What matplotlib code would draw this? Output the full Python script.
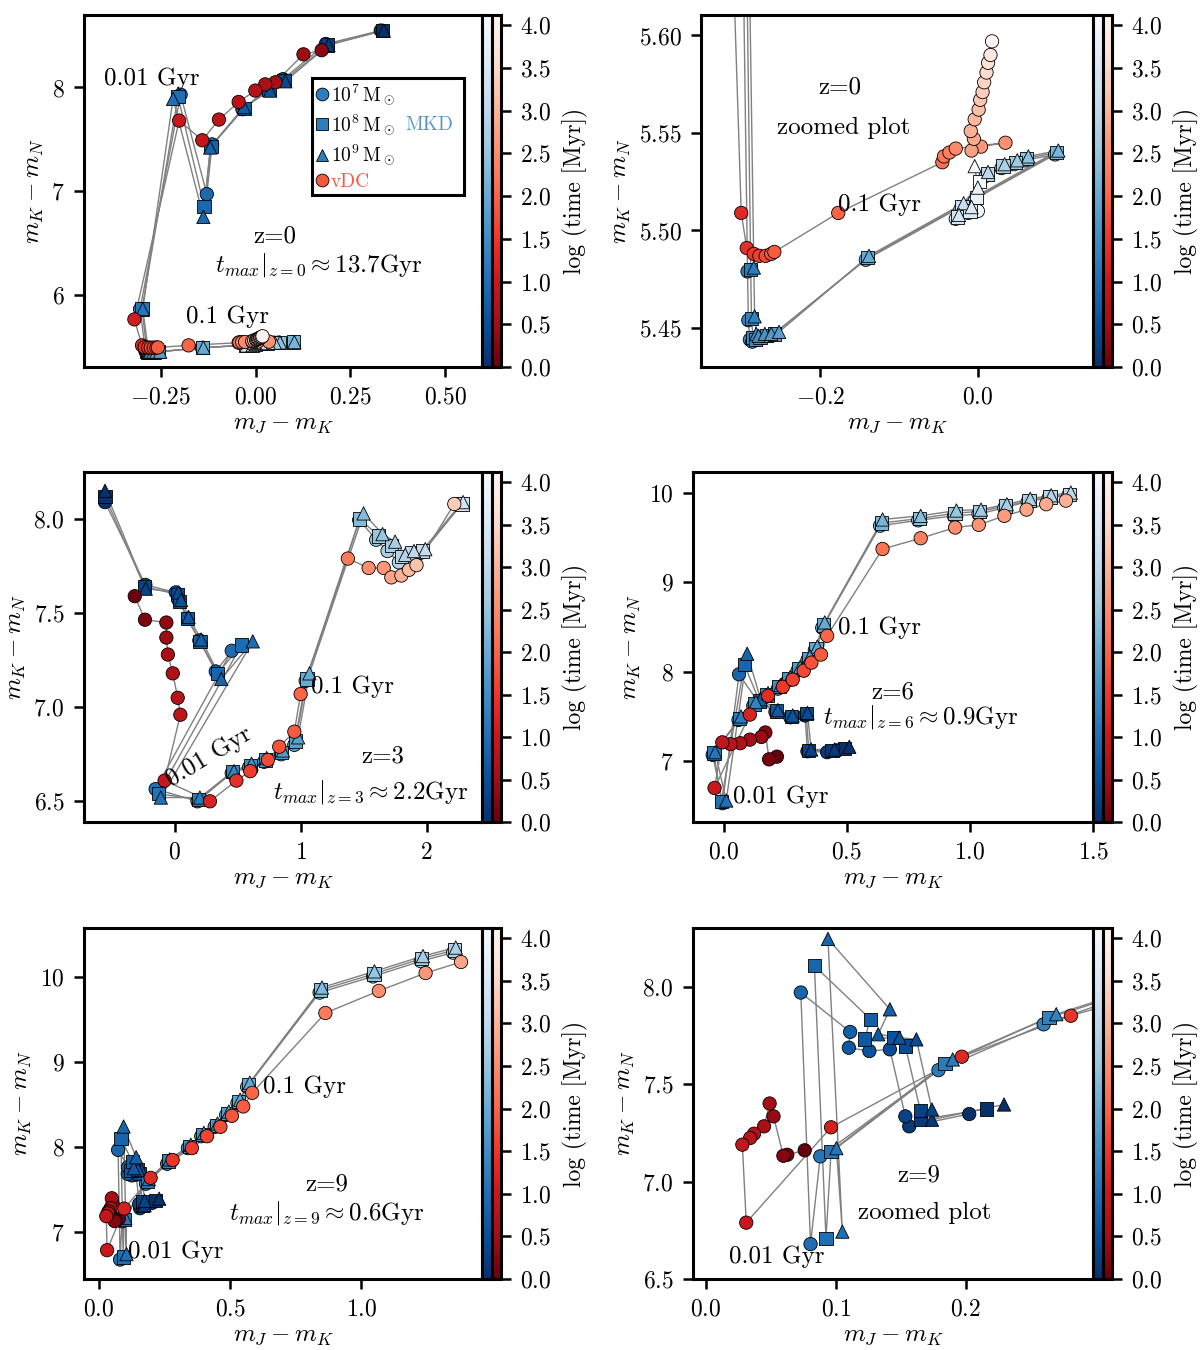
import matplotlib
matplotlib.use('Agg')
import matplotlib.pyplot as plt
import numpy as np
from matplotlib.colors import Normalize
from matplotlib.cm import ScalarMappable
from matplotlib.lines import Line2D
from matplotlib.ticker import MultipleLocator

plt.rcParams['font.family'] = 'serif'
plt.rcParams['font.serif'] = ['cmr10']
plt.rcParams['mathtext.fontset'] = 'cm'
plt.rcParams['axes.formatter.use_mathtext'] = True

# ---------------- z = 0 ----------------
z0_t_mkd = [0.0, 0.2, 0.4, 0.55, 0.7, 0.8, 0.9, 1.0, 1.1, 1.2, 1.3, 1.4, 1.5, 1.6,
            1.7, 1.8, 2.0, 2.2, 2.4, 2.6, 2.8, 3.0, 3.2, 3.4, 3.6, 3.8, 4.1]
z0_x_m7 = [0.330, 0.185, 0.072, 0.030, -0.035, -0.115, -0.129, -0.198, -0.305, -0.292,
           -0.291, -0.289, -0.286, -0.280, -0.272, -0.262, -0.142, 0.098, 0.060, 0.046,
           0.030, 0.010, -0.022, -0.028, -0.012, -0.004, 0.000]
z0_y_m7 = [8.55, 8.42, 8.08, 7.98, 7.79, 7.45, 6.97, 7.93, 5.86, 5.479, 5.454, 5.444,
           5.443, 5.444, 5.445, 5.446, 5.485, 5.539, 5.536, 5.534, 5.532, 5.528, 5.511,
           5.506, 5.509, 5.515, 5.510]
z0_x_m8 = [0.335, 0.190, 0.075, 0.035, -0.030, -0.118, -0.136, -0.205, -0.300, -0.288,
           -0.287, -0.285, -0.282, -0.276, -0.268, -0.258, -0.140, 0.100, 0.062, 0.048,
           0.032, 0.012, -0.020, -0.026, -0.010, -0.002, 0.002]
z0_y_m8 = [8.55, 8.41, 8.07, 7.98, 7.80, 7.43, 6.85, 7.91, 5.86, 5.480, 5.455, 5.445,
           5.444, 5.445, 5.446, 5.447, 5.486, 5.540, 5.537, 5.535, 5.533, 5.529, 5.512,
           5.507, 5.510, 5.517, 5.525]
z0_x_m9 = [0.338, 0.192, 0.078, 0.038, -0.031, -0.120, -0.138, -0.218, -0.298, -0.284,
           -0.283, -0.281, -0.278, -0.270, -0.262, -0.252, -0.138, 0.102, 0.064, 0.050,
           0.034, 0.013, -0.018, -0.024, -0.008, 0.000, -0.004]
z0_y_m9 = [8.55, 8.41, 8.06, 7.97, 7.81, 7.42, 6.75, 7.89, 5.86, 5.481, 5.456, 5.447,
           5.446, 5.447, 5.447, 5.448, 5.487, 5.541, 5.538, 5.536, 5.534, 5.530, 5.514,
           5.508, 5.512, 5.522, 5.533]
z0_t_vdc = [0.3, 0.45, 0.55, 0.62, 0.7, 0.78, 0.86, 0.93, 1.0, 1.1, 1.3, 1.4, 1.5, 1.6,
            1.7, 1.8, 1.9, 2.0, 2.15, 2.25, 2.35, 2.45, 2.55, 2.65, 2.75, 2.85, 2.95,
            3.05, 3.15, 3.25, 3.35, 3.45, 3.55, 3.65, 3.8, 4.1]
z0_x_vdc = [0.174, 0.126, 0.052, 0.025, -0.001, -0.045, -0.097, -0.141, -0.202, -0.320,
            -0.300, -0.293, -0.284, -0.277, -0.269, -0.262, -0.258, -0.177, -0.045,
            -0.043, -0.036, -0.028, 0.035, 0.004, -0.008, -0.005, -0.009, -0.004, 0.001,
            0.003, 0.006, 0.008, 0.011, 0.013, 0.016, 0.018]
z0_y_vdc = [8.36, 8.32, 8.05, 8.03, 7.97, 7.86, 7.69, 7.49, 7.68, 5.76, 5.509, 5.491,
            5.488, 5.487, 5.487, 5.488, 5.489, 5.509, 5.535, 5.538, 5.540, 5.542, 5.545,
            5.543, 5.541, 5.547, 5.551, 5.557, 5.562, 5.567, 5.571, 5.576, 5.581, 5.586,
            5.590, 5.597]

# ---------------- z = 3 ----------------
z3_t_mkd = [0.0, 0.3, 0.45, 0.55, 0.65, 0.75, 0.85, 0.95, 1.05, 1.2, 1.35, 1.5, 1.6,
            1.7, 1.8, 2.0, 2.3, 2.5, 2.7, 2.85, 3.0, 3.15, 3.34]
z3_x_m7 = [-0.553, -0.233, 0.009, 0.03, 0.106, 0.196, 0.326, 0.453, -0.151, 0.181,
           0.453, 0.59, 0.71, 0.846, 0.95, 1.04, 1.465, 1.60, 1.69, 1.78, 1.86, 1.95, 2.27]
z3_y_m7 = [8.09, 7.65, 7.61, 7.57, 7.47, 7.355, 7.19, 7.30, 6.565, 6.50, 6.65, 6.68,
           6.71, 6.75, 6.80, 7.14, 7.995, 7.89, 7.83, 7.77, 7.80, 7.82, 8.08]
z3_x_m8 = [-0.553, -0.24, 0.02, 0.04, 0.10, 0.20, 0.34, 0.53, -0.13, 0.19, 0.46, 0.60,
           0.72, 0.85, 0.96, 1.05, 1.47, 1.62, 1.72, 1.80, 1.88, 1.97, 2.28]
z3_y_m8 = [8.12, 7.64, 7.60, 7.56, 7.47, 7.35, 7.18, 7.33, 6.54, 6.51, 6.66, 6.69, 6.72,
           6.76, 6.82, 7.15, 8.00, 7.91, 7.86, 7.80, 7.82, 7.83, 8.08]
z3_x_m9 = [-0.553, -0.23, 0.03, 0.05, 0.11, 0.21, 0.37, 0.62, -0.11, 0.20, 0.47, 0.61,
           0.73, 0.86, 0.98, 1.07, 1.50, 1.65, 1.75, 1.83, 1.90, 1.99, 2.29]
z3_y_m9 = [8.15, 7.63, 7.61, 7.57, 7.48, 7.36, 7.15, 7.35, 6.52, 6.52, 6.66, 6.70, 6.73,
           6.77, 6.84, 7.18, 8.03, 7.92, 7.88, 7.81, 7.83, 7.84, 8.09]
z3_t_vdc = [0.05, 0.2, 0.35, 0.45, 0.55, 0.65, 0.75, 0.85, 1.0, 1.2, 1.4, 1.55, 1.7,
            1.8, 1.9, 2.0, 2.3, 2.5, 2.65, 2.8, 2.95, 3.1, 3.2, 3.34]
z3_x_vdc = [-0.317, -0.236, -0.066, -0.066, -0.054, -0.015, 0.024, 0.045, -0.08, 0.28,
            0.49, 0.60, 0.74, 0.83, 0.95, 1.00, 1.375, 1.54, 1.66, 1.72, 1.80, 1.86,
            1.92, 2.22]
z3_y_vdc = [7.59, 7.465, 7.45, 7.37, 7.28, 7.18, 7.05, 6.96, 6.61, 6.50, 6.61, 6.66,
            6.72, 6.79, 6.87, 7.07, 7.79, 7.74, 7.74, 7.69, 7.70, 7.73, 7.755, 8.08]

# ---------------- z = 6 ----------------
z6_t_mkd = [0.0, 0.15, 0.3, 0.45, 0.55, 0.65, 0.75, 0.85, 1.0, 1.1, 1.2, 1.3, 1.4, 1.5,
            1.6, 1.7, 1.8, 1.9, 2.0, 2.2, 2.35, 2.5, 2.6, 2.7, 2.8, 2.87, 2.95]
z6_x_m7 = [0.46, 0.42, 0.34, 0.33, 0.27, 0.21, 0.14, 0.062, -0.005, -0.045, 0.06, 0.12,
           0.17, 0.22, 0.26, 0.30, 0.34, 0.37, 0.40, 0.635, 0.79, 0.935, 1.035, 1.14,
           1.235, 1.32, 1.40]
z6_y_m7 = [7.12, 7.10, 7.11, 7.51, 7.49, 7.55, 7.66, 7.97, 6.53, 7.07, 7.46, 7.62, 7.72,
           7.81, 7.90, 8.01, 8.13, 8.24, 8.49, 9.63, 9.69, 9.74, 9.76, 9.83, 9.90, 9.94,
           9.97]
z6_x_m8 = [0.49, 0.44, 0.345, 0.335, 0.275, 0.215, 0.145, 0.083, -0.01, -0.04, 0.065,
           0.125, 0.175, 0.225, 0.265, 0.305, 0.345, 0.375, 0.405, 0.64, 0.795, 0.94,
           1.04, 1.145, 1.24, 1.325, 1.405]
z6_y_m8 = [7.14, 7.12, 7.12, 7.53, 7.50, 7.56, 7.67, 8.08, 6.55, 7.09, 7.48, 7.64, 7.74,
           7.83, 7.92, 8.03, 8.15, 8.26, 8.52, 9.66, 9.71, 9.77, 9.79, 9.85, 9.91, 9.95,
           9.98]
z6_x_m9 = [0.51, 0.45, 0.355, 0.34, 0.28, 0.22, 0.15, 0.095, 0.01, -0.035, 0.07, 0.13,
           0.18, 0.23, 0.27, 0.31, 0.35, 0.38, 0.41, 0.645, 0.80, 0.945, 1.045, 1.15,
           1.245, 1.33, 1.41]
z6_y_m9 = [7.16, 7.13, 7.13, 7.54, 7.51, 7.57, 7.69, 8.20, 6.56, 7.10, 7.50, 7.66, 7.76,
           7.85, 7.94, 8.05, 8.17, 8.28, 8.55, 9.70, 9.74, 9.80, 9.81, 9.87, 9.93, 9.97,
           10.0]
z6_t_vdc = [0.0, 0.15, 0.3, 0.42, 0.54, 0.66, 0.78, 0.9, 1.0, 1.2, 1.35, 1.5, 1.6, 1.7,
            1.8, 1.9, 2.0, 2.2, 2.35, 2.5, 2.6, 2.7, 2.8, 2.87, 2.95]
z6_x_vdc = [0.216, 0.184, 0.169, 0.153, 0.106, 0.067, 0.028, -0.006, -0.0375, 0.106,
            0.18, 0.24, 0.28, 0.325, 0.356, 0.395, 0.42, 0.645, 0.80, 0.94, 1.036, 1.14,
            1.23, 1.31, 1.39]
z6_y_vdc = [7.05, 7.02, 7.32, 7.27, 7.24, 7.20, 7.19, 7.21, 6.70, 7.52, 7.73, 7.83,
            7.91, 8.01, 8.10, 8.19, 8.40, 9.37, 9.49, 9.61, 9.64, 9.74, 9.81, 9.87, 9.91]

# ---------------- z = 9 ----------------
z9_t_mkd = [0.0, 0.15, 0.3, 0.45, 0.55, 0.65, 0.75, 0.85, 1.0, 1.1, 1.2, 1.3, 1.45,
            1.55, 1.65, 1.75, 1.87, 2.0, 2.3, 2.5, 2.65, 2.78]
z9_x_m7 = [0.2027, 0.1565, 0.1535, 0.1416, 0.1258, 0.110, 0.111, 0.073, 0.0805, 0.088,
           0.179, 0.260, 0.339, 0.39, 0.441, 0.485, 0.528, 0.565, 0.841, 1.045, 1.227,
           1.35]
z9_y_m7 = [7.346, 7.283, 7.334, 7.678, 7.669, 7.686, 7.767, 7.969, 6.679, 7.129, 7.571,
           7.806, 7.99, 8.13, 8.24, 8.38, 8.52, 8.71, 9.82, 10.01, 10.19, 10.29]
z9_x_m8 = [0.216, 0.165, 0.165, 0.1535, 0.1446, 0.122, 0.1267, 0.0835, 0.0924, 0.0963,
           0.184, 0.264, 0.345, 0.395, 0.447, 0.49, 0.533, 0.57, 0.845, 1.048, 1.23,
           1.355]
z9_y_m8 = [7.372, 7.317, 7.365, 7.695, 7.738, 7.73, 7.832, 8.106, 6.708, 7.154, 7.604,
           7.84, 8.01, 8.15, 8.26, 8.40, 8.54, 8.74, 9.85, 10.04, 10.22, 10.32]
z9_x_m9 = [0.2295, 0.174, 0.174, 0.162, 0.149, 0.1326, 0.1416, 0.0939, 0.105, 0.1004,
           0.190, 0.2697, 0.35, 0.40, 0.452, 0.495, 0.538, 0.575, 0.85, 1.05, 1.235,
           1.36]
z9_y_m9 = [7.395, 7.317, 7.369, 7.729, 7.738, 7.755, 7.883, 8.244, 6.743, 7.171, 7.626,
           7.858, 8.03, 8.17, 8.28, 8.42, 8.56, 8.76, 9.88, 10.07, 10.25, 10.35]
z9_t_vdc = [0.0, 0.12, 0.25, 0.4, 0.5, 0.6, 0.7, 0.8, 0.9, 1.0, 1.15, 1.3, 1.45, 1.55,
            1.65, 1.75, 1.83, 1.92, 2.0, 2.3, 2.5, 2.65, 2.78]
z9_x_vdc = [0.076, 0.0626, 0.0596, 0.052, 0.049, 0.0447, 0.037, 0.034, 0.028, 0.031,
            0.0963, 0.197, 0.281, 0.354, 0.412, 0.463, 0.507, 0.55, 0.584, 0.863, 1.067,
            1.245, 1.38]
z9_y_vdc = [7.16, 7.137, 7.132, 7.334, 7.40, 7.283, 7.245, 7.223, 7.189, 6.789, 7.278,
            7.64, 7.85, 7.99, 8.13, 8.24, 8.37, 8.48, 8.64, 9.58, 9.84, 10.05, 10.18]

cbar_ticks = [0.0, 0.5, 1.0, 1.5, 2.0, 2.5, 3.0, 3.5, 4.0]
norm = Normalize(vmin=0.0, vmax=4.12)

W, H = 1200, 1350


def rect(l, r, t, b):
    return [l / W, 1 - b / H, (r - l) / W, (b - t) / H]


def draw_panel(fig, box, tracks, xlim, ylim, xstep, ystep, texts):
    l, r, t, b = box
    ax = fig.add_axes(rect(l, r, t, b))
    cax_b = fig.add_axes(rect(r, r + 9.5, t, b))
    cax_r = fig.add_axes(rect(r + 9.5, r + 19, t, b))

    t_mkd, mkd, t_vdc, x_vdc, y_vdc = tracks
    for marker, (x, y) in zip(['o', 's', '^'], mkd):
        ax.plot(x, y, color='grey', lw=0.5, zorder=1)
        ax.scatter(x, y, c=t_mkd, cmap='Blues_r', norm=norm, marker=marker, s=23,
                   edgecolors='k', linewidths=0.3, zorder=2)
    ax.plot(x_vdc, y_vdc, color='grey', lw=0.5, zorder=1)
    ax.scatter(x_vdc, y_vdc, c=t_vdc, cmap='Reds_r', norm=norm, marker='o', s=23,
               edgecolors='k', linewidths=0.3, zorder=2)

    ax.set_xlim(*xlim)
    ax.set_ylim(*ylim)
    ax.xaxis.set_major_locator(MultipleLocator(xstep))
    ax.yaxis.set_major_locator(MultipleLocator(ystep))
    ax.set_xlabel(r'$m_J - m_K$', fontsize=9, labelpad=1.5)
    ax.set_ylabel(r'$m_K - m_N$', fontsize=9, labelpad=2)
    ax.tick_params(labelsize=8.5, width=0.9, length=3.5)
    for sp in ax.spines.values():
        sp.set_linewidth(1.1)

    for (tx, ty, s, rot) in texts:
        ax.text(tx, ty, s, transform=ax.transAxes, ha='center', va='center',
                fontsize=9, rotation=rot, zorder=4)

    cb1 = fig.colorbar(ScalarMappable(norm=norm, cmap='Blues_r'), cax=cax_b)
    cb1.set_ticks([])
    cb1.outline.set_linewidth(1.1)
    cb2 = fig.colorbar(ScalarMappable(norm=norm, cmap='Reds_r'), cax=cax_r,
                       ticks=cbar_ticks)
    cb2.outline.set_linewidth(1.1)
    cb2.ax.tick_params(labelsize=8.5, width=0.9, length=3.5)
    cb2.set_label('log (time [Myr])', fontsize=8.5)
    return ax


fig = plt.figure(figsize=(6, 6.75), dpi=200)

z0 = (z0_t_mkd, [(z0_x_m7, z0_y_m7), (z0_x_m8, z0_y_m8), (z0_x_m9, z0_y_m9)],
      z0_t_vdc, z0_x_vdc, z0_y_vdc)
z3 = (z3_t_mkd, [(z3_x_m7, z3_y_m7), (z3_x_m8, z3_y_m8), (z3_x_m9, z3_y_m9)],
      z3_t_vdc, z3_x_vdc, z3_y_vdc)
z6 = (z6_t_mkd, [(z6_x_m7, z6_y_m7), (z6_x_m8, z6_y_m8), (z6_x_m9, z6_y_m9)],
      z6_t_vdc, z6_x_vdc, z6_y_vdc)
z9 = (z9_t_mkd, [(z9_x_m7, z9_y_m7), (z9_x_m8, z9_y_m8), (z9_x_m9, z9_y_m9)],
      z9_t_vdc, z9_x_vdc, z9_y_vdc)

ax1 = draw_panel(fig, (84, 482, 15, 367), z0, (-0.453, 0.597), (5.30, 8.70), 0.25, 1.0,
                 [(0.17, 0.82, '0.01 Gyr', 0), (0.36, 0.142, '0.1 Gyr', 0),
                  (0.48, 0.37, 'z=0', 0),
                  (0.59, 0.29, r'$t_{max}|_{z=0} \approx 13.7$Gyr', 0)])
draw_panel(fig, (701, 1093, 15, 367), z0, (-0.351, 0.146), (5.43, 5.6105), 0.2, 0.05,
           [(0.355, 0.795, 'z=0', 0), (0.365, 0.68, 'zoomed plot', 0),
            (0.455, 0.46, '0.1 Gyr', 0)])
draw_panel(fig, (84, 482, 472, 822), z3, (-0.72, 2.44), (6.39, 8.25), 1.0, 0.5,
           [(0.315, 0.186, '0.01 Gyr', 31), (0.675, 0.386, '0.1 Gyr', 0),
            (0.75, 0.186, 'z=3', 0),
            (0.72, 0.086, r'$t_{max}|_{z=3} \approx 2.2$Gyr', 0)])
draw_panel(fig, (693, 1093, 472, 822), z6, (-0.125, 1.5), (6.32, 10.23), 0.5, 1.0,
           [(0.465, 0.554, '0.1 Gyr', 0), (0.22, 0.071, '0.01 Gyr', 0),
            (0.50, 0.37, 'z=6', 0),
            (0.57, 0.30, r'$t_{max}|_{z=6} \approx 0.9$Gyr', 0)])
draw_panel(fig, (84, 482, 928, 1279), z9, (-0.057, 1.46), (6.45, 10.58), 0.5, 1.0,
           [(0.555, 0.547, '0.1 Gyr', 0), (0.23, 0.077, '0.01 Gyr', 0),
            (0.61, 0.27, 'z=9', 0),
            (0.61, 0.188, r'$t_{max}|_{z=9} \approx 0.6$Gyr', 0)])
draw_panel(fig, (693, 1093, 928, 1279), z9, (-0.01, 0.298), (6.5, 8.3), 0.1, 0.5,
           [(0.565, 0.296, 'z=9', 0), (0.58, 0.188, 'zoomed plot', 0),
            (0.21, 0.063, '0.01 Gyr', 0)])

# legend in the first panel
mkd_col = plt.cm.Blues(0.7)
vdc_col = plt.cm.Reds(0.55)
handles = [Line2D([], [], ls='none', marker='o', ms=4.6, mfc=mkd_col, mec='k', mew=0.3),
           Line2D([], [], ls='none', marker='s', ms=4.6, mfc=mkd_col, mec='k', mew=0.3),
           Line2D([], [], ls='none', marker='^', ms=4.6, mfc=mkd_col, mec='k', mew=0.3),
           Line2D([], [], ls='none', marker='o', ms=4.6, mfc=vdc_col, mec='k', mew=0.3)]
labels = [r'$10^7\,\mathrm{M}_\odot$', r'$10^8\,\mathrm{M}_\odot$',
          r'$10^9\,\mathrm{M}_\odot$', 'vDC']
leg = ax1.legend(handles, labels, loc='upper left', bbox_to_anchor=(0.573, 0.497, 0.382, 0.323),
                 mode='expand', fontsize=7, frameon=True, fancybox=False, framealpha=1,
                 edgecolor='k', handlelength=0.6, handletextpad=0.15, labelspacing=0.3,
                 borderpad=0.2, borderaxespad=0.0, numpoints=1)
leg.get_frame().set_linewidth(1.1)
leg.get_texts()[3].set_color(vdc_col)

# put "MKD" on the same row as the 10^8 entry
fig.canvas.draw()
bb = leg.get_texts()[1].get_window_extent()
y_mkd = ax1.transAxes.inverted().transform((0, 0.5 * (bb.y0 + bb.y1)))[1]
ax1.text(0.867, y_mkd, 'MKD', transform=ax1.transAxes, ha='center', va='center',
         fontsize=7, color='#5b93c8', zorder=10)

fig.savefig('out.png', dpi=200)
